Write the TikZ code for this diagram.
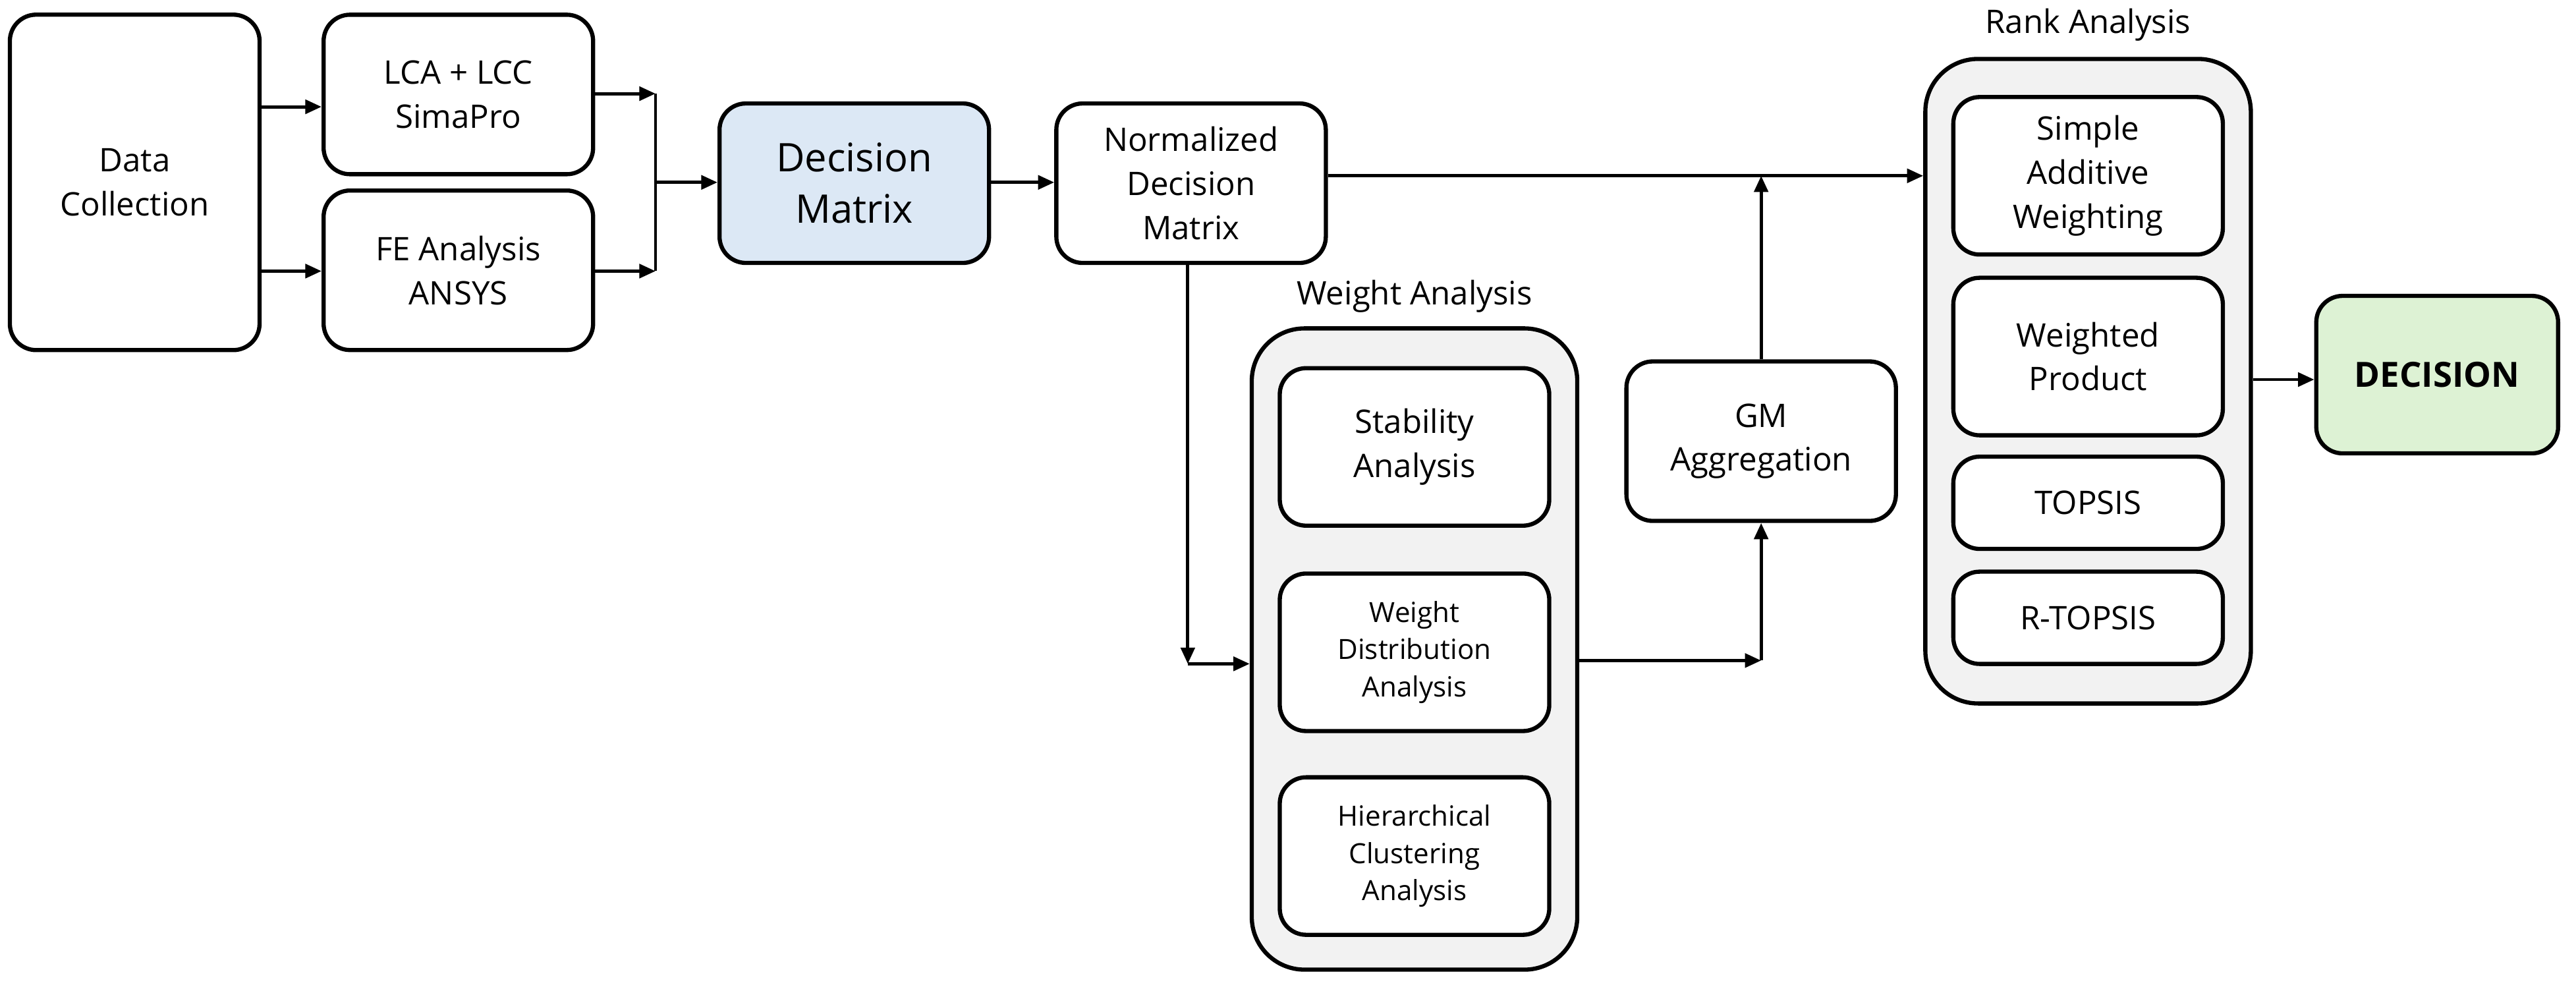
\documentclass[tikz,border=0pt]{standalone}
\usepackage{fontspec}
\setmainfont{Open Sans}
\usetikzlibrary{arrows.meta}
\definecolor{bluef}{HTML}{DCE8F5}
\definecolor{greenf}{HTML}{DDF2D4}
\definecolor{grayf}{HTML}{F2F2F2}
\begin{document}
\begin{tikzpicture}[x=0.02494cm,y=-0.02494cm,
  box/.style={draw,line width=1.8pt,rounded corners=0.4cm,align=center,inner sep=0pt,font=\fontsize{14}{19}\selectfont},
  cont/.style={draw,line width=1.8pt,rounded corners=0.8cm,fill=grayf,inner sep=0pt},
  arr/.style={line width=1.4pt,-{Triangle[length=7pt,width=6pt]}},
  ln/.style={line width=1.4pt}]
\useasboundingbox (0,0) rectangle (1568,604);
\newcommand\bx[6]{\node[box,minimum width=#4*0.02494cm,minimum height=#5*0.02494cm,#6] (#1) at (#2,#3) {};}
% boxes
\node[box,minimum width=3.79cm,minimum height=5.09cm] (dc) at (82,111) {Data\\Collection};
\node[box,minimum width=4.09cm,minimum height=2.42cm] (lca) at (279,57.5) {LCA + LCC\\SimaPro};
\node[box,minimum width=4.09cm,minimum height=2.42cm] (fe) at (279,164.5) {FE Analysis\\ANSYS};
\node[box,fill=bluef,minimum width=4.09cm,minimum height=2.42cm,font=\fontsize{17}{22}\selectfont] (dm) at (520,111.5) {Decision\\Matrix};
\node[box,minimum width=4.09cm,minimum height=2.42cm] (nm) at (725,111.5) {Normalized\\Decision\\Matrix};
\node[cont,minimum width=4.94cm,minimum height=9.73cm] (wa) at (861,395) {};
\node[font=\fontsize{14}{17}\selectfont,anchor=south] (wal) at (861,195) {Weight Analysis};
\node[box,fill=white,minimum width=4.09cm,minimum height=2.39cm] (sa) at (861,272) {Stability\\Analysis};
\node[box,fill=white,minimum width=4.09cm,minimum height=2.39cm,font=\fontsize{12}{16}\selectfont] (wd) at (861,397) {Weight\\Distribution\\Analysis};
\node[box,fill=white,minimum width=4.09cm,minimum height=2.39cm,font=\fontsize{12}{16}\selectfont] (hc) at (861,521) {Hierarchical\\Clustering\\Analysis};
\node[box,minimum width=4.09cm,minimum height=2.42cm] (gm) at (1072,268.5) {GM\\Aggregation};
\node[cont,minimum width=4.94cm,minimum height=9.78cm] (ra) at (1271,232) {};
\node[font=\fontsize{14}{17}\selectfont,anchor=south] (ral) at (1271,30) {Rank Analysis};
\node[box,fill=white,minimum width=4.09cm,minimum height=2.39cm] (saw) at (1271,107) {Simple\\Additive\\Weighting};
\node[box,fill=white,minimum width=4.09cm,minimum height=2.39cm] (wp) at (1271,217) {Weighted\\Product};
\node[box,fill=white,minimum width=4.09cm,minimum height=1.40cm] (tp) at (1271,306) {TOPSIS};
\node[box,fill=white,minimum width=4.09cm,minimum height=1.40cm] (rtp) at (1271,376) {R-TOPSIS};
\node[box,fill=greenf,minimum width=3.67cm,minimum height=2.39cm,font=\fontsize{15}{19}\selectfont\bfseries] (de) at (1483.5,228) {DECISION};
% connectors
\coordinate (j1) at (399,57);
\coordinate (j2) at (399,165);
\coordinate (j3) at (399,111);
\draw[arr] (dc.east|-0,65) -- (lca.west|-0,65);
\draw[arr] (dc.east|-0,165) -- (fe.west|-0,165);
\draw[arr] (lca.east|-j1) -- (j1);
\draw[arr] (fe.east|-j2) -- (j2);
\draw[ln] (j1) -- (j2);
\draw[arr] (j3) -- (dm.west|-j3);
\draw[arr] (dm.east|-j3) -- (nm.west|-j3);
\coordinate (k1) at (1072,107);
\draw[arr] (nm.east|-k1) -- (ra.west|-k1);
\coordinate (d1) at (723,404);
\draw[arr] (723,160) -- (d1);
\draw[arr] (d1) -- (wa.west|-d1);
\coordinate (g1) at (1072,402);
\draw[arr] (wa.east|-g1) -- (g1);
\draw[arr] (g1) -- (gm.south);
\draw[arr] (gm.north) -- (k1);
\draw[arr] (ra.east|-0,231) -- (de.west|-0,231);
\end{tikzpicture}
\end{document}
